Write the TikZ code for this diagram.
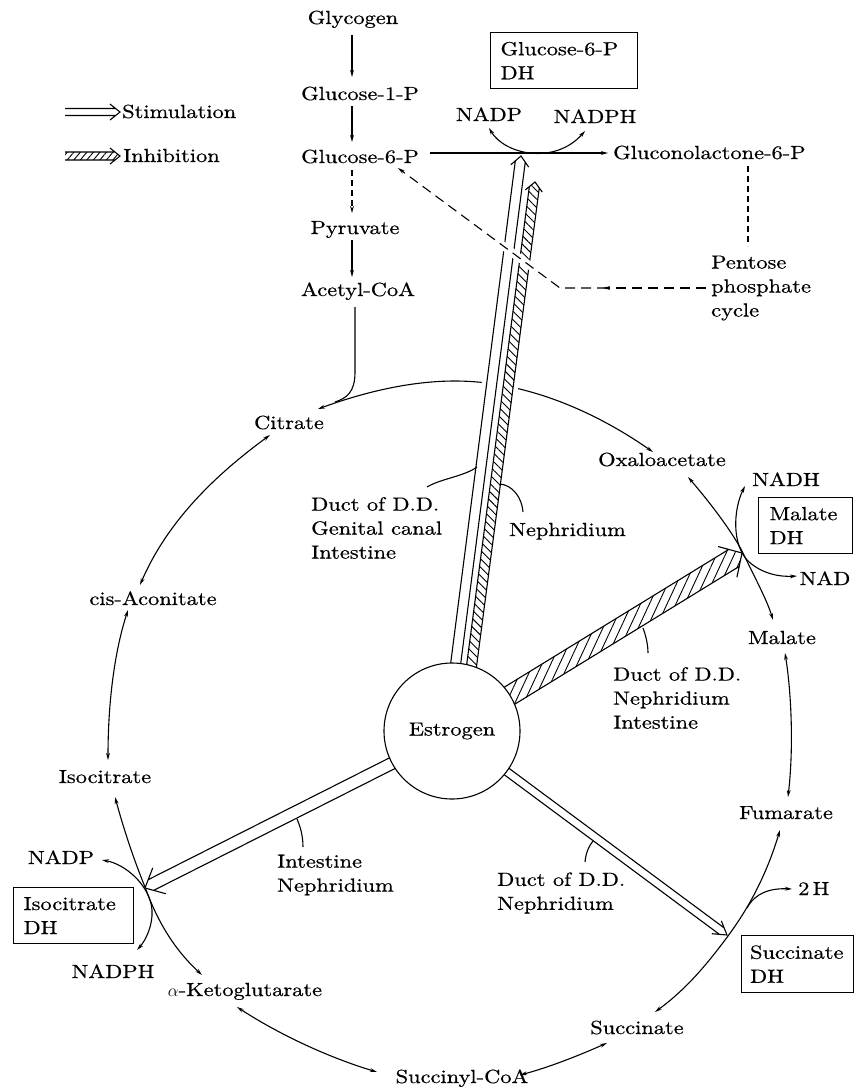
\documentclass[tikz,border=0pt]{standalone}
\usepackage{fontspec}
\setmainfont{lmroman10-regular.otf}[FakeStretch=1.18,FakeBold=0.6]
\usetikzlibrary{arrows.meta,calc,patterns.meta}

% band arrow geometry: #1 prefix, #2 start, #3 tip, #4 half width, #5 band end (from tip),
% #6 barb back distance, #7 barb half width, #8 white margin half width
\newcommand{\bandpts}[8]{%
  \coordinate (#1E) at ($(#3)!#5pt!(#2)$);
  \coordinate (#1P) at ($(#3)!#6pt!(#2)$);
  \coordinate (#1a) at ($(#2)!#4pt!90:(#3)$);
  \coordinate (#1b) at ($(#2)!#4pt!-90:(#3)$);
  \coordinate (#1c) at ($(#1E)!#4pt!90:(#3)$);
  \coordinate (#1d) at ($(#1E)!#4pt!-90:(#3)$);
  \coordinate (#1f) at ($(#1P)!#7pt!90:(#3)$);
  \coordinate (#1g) at ($(#1P)!#7pt!-90:(#3)$);
  \coordinate (#1m) at ($(#2)!#8pt!90:(#3)$);
  \coordinate (#1n) at ($(#2)!#8pt!-90:(#3)$);
  \coordinate (#1o) at ($(#1E)!#8pt!90:(#3)$);
  \coordinate (#1q) at ($(#1E)!#8pt!-90:(#3)$);
}
\newcommand{\stimband}[1]{%
  \fill[white] (#1m) -- (#1o) -- (#1q) -- (#1n) -- cycle;
  \fill[white] (#1a) -- (#1c) -- (#1f) -- (#1T) -- (#1g) -- (#1d) -- (#1b) -- cycle;
  \draw[band] (#1a) -- (#1c) (#1b) -- (#1d) (#1f) -- (#1T) -- (#1g);
}
\newcommand{\hatchband}[3]{%
  \fill[white] (#1m) -- (#1o) -- (#1q) -- (#1n) -- cycle;
  \fill[white] (#1a) -- (#1c) -- (#1f) -- (#1T) -- (#1g) -- (#1d) -- (#1b) -- cycle;
  \path[pattern={Lines[angle=#2,distance=#3pt,line width=0.9pt]}] (#1a) -- (#1c) -- (#1f) -- (#1T) -- (#1g) -- (#1d) -- (#1b) -- cycle;
  \draw[band] (#1a) -- (#1c) -- (#1f) -- (#1T) -- (#1g) -- (#1d) -- (#1b);
}

\begin{document}
\begin{tikzpicture}[x=1pt,y=-1pt,font=\fontsize{19}{24}\selectfont,
  lbl/.style={inner sep=0pt,anchor=base},
  lblw/.style={inner sep=0pt,anchor=base west},
  ml/.style={inner sep=0pt,align=left,anchor=west},
  box/.style={draw,line width=1.1pt,inner xsep=10pt,inner ysep=0pt,align=left,anchor=north west,minimum height=56pt},
  ln/.style={line width=1.1pt},
  band/.style={line width=1.1pt,line join=miter},
  >={Stealth[length=7pt,width=3.8pt]},
  rx/.style={ln,->},
  rxx/.style={ln,<->},
  dsh/.style={ln,dash pattern=on 10pt off 6pt},
  dshs/.style={ln,dash pattern=on 6pt off 4pt}]
\useasboundingbox (0,0) rectangle (855,1088);

% ---------- legend ----------
\coordinate (lg1S) at (65,112); \coordinate (lg1T) at (120,112);
\coordinate (lg2S) at (65,156); \coordinate (lg2T) at (120,156);
\bandpts{lg1}{lg1S}{lg1T}{3.5}{4.4}{10}{8}{3.5}
\bandpts{lg2}{lg2S}{lg2T}{4}{5}{10}{8}{4}
\stimband{lg1}
\hatchband{lg2}{50}{5}
\node[lblw] (stim) at (122,118) {Stimulation};
\node[lblw] (inhib) at (123,162) {Inhibition};

% ---------- glycolysis chain ----------
\node[lbl] (gly) at (353,24) {Glycogen};
\node[lbl] (g1p) at (360,100) {Glucose-1-P};
\node[lbl] (g6p) at (360,163) {Glucose-6-P};
\node[lbl] (pyr) at (355,234) {Pyruvate};
\node[lbl] (acc) at (358,296) {Acetyl-CoA};
\node[lblw] (glp) at (613,159) {Gluconolactone-6-P};
\node[box,text width=127pt] (g6pdh) at (490,32) {Glucose-6-P\\DH};
\node[lbl] (nadpT) at (489,121) {NADP};
\node[lbl] (nadphT) at (595,123) {NADPH};
\node[ml] (ppc) at (711,288) {Pentose\\phosphate\\cycle};

\coordinate (a1) at (352,35);  \coordinate (a2) at (352,77);
\coordinate (a3) at (352,106); \coordinate (a4) at (352,142);
\coordinate (a5) at (352,170); \coordinate (a6) at (352,213);
\coordinate (a7) at (352,240); \coordinate (a8) at (352,277);
\draw[rx] (a1) -- (a2);
\draw[rx] (a3) -- (a4);
\draw[dshs,->] (a5) -- (a6);
\draw[rx] (a7) -- (a8);
\draw[rx] ($(g6p.base east)+(11,-10)$) -- ($(glp.base west)+(-5,-6)$);
\coordinate (nT1) at (489,128); \coordinate (nT2) at (585,131);
\draw[rxx] (nT1) .. controls (505,155) and (555,165) .. (nT2);
\coordinate (gl1) at (748,166); \coordinate (gl2) at (748,246);
\draw[dshs] (gl1) -- (gl2);

% ---------- TCA cycle nodes ----------
\node[lbl] (cit) at (289,429) {Citrate};
\node[lbl] (cis) at (153,605) {cis-Aconitate};
\node[lbl] (iso) at (105,783) {Isocitrate};
\node[lbl] (nadpL) at (61,864) {NADP};
\node[box,text width=100pt] (isodh) at (13,887) {Isocitrate\\DH};
\node[lbl] (nadphL) at (113,978) {NADPH};
\node[lbl] (akg) at (245,996) {$\alpha$-Ketoglutarate};
\node[lbl] (scoa) at (462,1083) {Succinyl-CoA};
\node[lbl] (suc) at (637,1034) {Succinate};
\node[box,text width=95pt,inner xsep=8.5pt,minimum height=57pt] (sucdh) at (741,935) {Succinate\\DH};
\node[lblw] (h2) at (798,895) {2\,H};
\node[lbl] (fum) at (786,819) {Fumarate};
\node[lbl] (mal) at (782,644) {Malate};
\node[box,text width=72pt,inner xsep=11pt] (maldh) at (758,497) {Malate\\DH};
\node[lbl] (nadh) at (786,486) {NADH};
\node[lbl] (nad) at (825,585) {NAD};
\node[lbl] (oxa) at (662,466) {Oxaloacetate};

% ---------- TCA cycle connectors ----------
\coordinate (c1) at (318,409); \coordinate (c2) at (455,381); \coordinate (c3) at (653,452);
\draw[rxx] (c1) .. controls (370,390) and (415,381) .. (c2) .. controls (530,381) and (600,415) .. (c3);
\coordinate (ac1) at (355,307); \coordinate (ac2) at (355,372); \coordinate (ac3) at (335,402);
\draw[ln] (ac1) -- (ac2) .. controls (355,392) and (347,398) .. (ac3);

\coordinate (om1) at (688,477); \coordinate (jm) at (743,553); \coordinate (om2) at (773,620);
\draw[rxx] (om1) .. controls (712,505) and (733,533) .. (jm) .. controls (755,578) and (767,600) .. (om2);
\coordinate (nn1) at (745,486); \coordinate (nn2) at (748,561); \coordinate (nn3) at (797,576);
\draw[rxx] (nn1) .. controls (733,510) and (732,545) .. (nn2) .. controls (762,574) and (780,577) .. (nn3);
\coordinate (mf1) at (785,653); \coordinate (mf2) at (788,797);
\draw[rxx] (mf1) .. controls (791,690) and (794,745) .. (mf2);
\coordinate (fs1) at (780,830); \coordinate (js) at (728,936); \coordinate (fs2) at (655,1012);
\draw[rxx] (fs1) .. controls (765,880) and (745,913) .. (js) .. controls (705,967) and (685,990) .. (fs2);
\coordinate (hh1) at (747,908); \coordinate (hh2) at (792,889);
\draw[rx] (hh1) .. controls (755,893) and (770,888) .. (hh2);
\coordinate (ss1) at (607,1043); \coordinate (ss2) at (520,1075);
\draw[rxx] (ss1) .. controls (580,1055) and (550,1067) .. (ss2);
\coordinate (sk1) at (377,1072); \coordinate (sk2) at (237,1007);
\draw[rxx] (sk1) .. controls (330,1058) and (280,1035) .. (sk2);
\coordinate (ik1) at (115,797); \coordinate (ji) at (145,887); \coordinate (ik2) at (202,975);
\draw[rxx] (ik1) .. controls (124,830) and (134,860) .. (ji) .. controls (158,923) and (175,950) .. (ik2);
\coordinate (np1) at (102,860); \coordinate (np2) at (152,910); \coordinate (np3) at (137,950);
\draw[rxx] (np1) .. controls (125,864) and (150,885) .. (np2) .. controls (153,925) and (146,940) .. (np3);
\coordinate (ci1) at (128,610); \coordinate (ci2) at (108,760);
\draw[rxx] (ci1) .. controls (115,650) and (108,700) .. (ci2);
\coordinate (cc1) at (270,435); \coordinate (cc2) at (140,585);
\draw[rxx] (cc1) .. controls (225,468) and (170,515) .. (cc2);

% ---------- estrogen arrows ----------
\coordinate (vsS) at (447,731); \coordinate (vsT) at (521,156);
\coordinate (vhS) at (463,731); \coordinate (vhT) at (535,182);
\coordinate (mhS) at (452,731); \coordinate (mhT) at (742,553);
\coordinate (lsS) at (452,733); \coordinate (lsT) at (145,888);
\coordinate (bsS) at (452,731); \coordinate (bsT) at (727,935);
\bandpts{vs}{vsS}{vsT}{5}{5.5}{10}{9}{10}
\bandpts{vh}{vhS}{vhT}{5}{5.3}{9}{8.5}{10}
\bandpts{mh}{mhS}{mhT}{10}{9.4}{17}{18}{10}
\bandpts{ls}{lsS}{lsT}{6}{6.6}{16}{14.5}{6}
\bandpts{bs}{bsS}{bsT}{4}{6.5}{13}{8}{4}
\stimband{vs}
\hatchband{vh}{-45}{6}
\hatchband{mh}{65}{8}
\stimband{ls}
\stimband{bs}

\node[circle,draw,ln,fill=white,minimum size=136pt,inner sep=0pt] (est) at (452,731) {Estrogen};

% ---------- dashed pentose return ----------
\coordinate (dp0) at (706,288); \coordinate (dpm) at (603,288); \coordinate (dpm2) at (607,288);
\coordinate (dp) at (560,288); \coordinate (g6a) at (398,168);
\draw[white,line width=8pt] ($(dp)!0.12!(g6a)$) -- ($(dp)!0.45!(g6a)$);
\draw[dsh,->] (dp0) -- (dpm);
\draw[dsh,->] (dpm2) -- (dp) -- (g6a);

% ---------- tissue labels ----------
\node[ml] (lab1) at (311,528) {Duct of D.D.\\Genital canal\\Intestine};
\node[lblw] (lab2) at (509,536) {Nephridium};
\node[ml] (lab3) at (613,698) {Duct of D.D.\\Nephridium\\Intestine};
\node[ml] (lab4) at (277,875) {Intestine\\Nephridium};
\node[ml] (lab5) at (497,893) {Duct of D.D.\\Nephridium};
\coordinate (l1a) at (427,487); \coordinate (l1b) at (477,467);
\draw[ln] (l1a) .. controls (440,479) and (465,476) .. (l1b);
\coordinate (l2a) at (523,512); \coordinate (l2b) at (500,484);
\draw[ln] (l2a) .. controls (522,497) and (512,485) .. (l2b);
\coordinate (l3a) at (648,653); \coordinate (l3b) at (643,628);
\draw[ln] (l3a) .. controls (648,645) and (646,636) .. (l3b);
\coordinate (l4a) at (303,847); \coordinate (l4b) at (297,819);
\draw[ln] (l4a) .. controls (303,835) and (300,826) .. (l4b);
\coordinate (l5a) at (585,862); \coordinate (l5b) at (593,841);
\draw[ln] (l5a) .. controls (586,852) and (589,846) .. (l5b);
\end{tikzpicture}
\end{document}
